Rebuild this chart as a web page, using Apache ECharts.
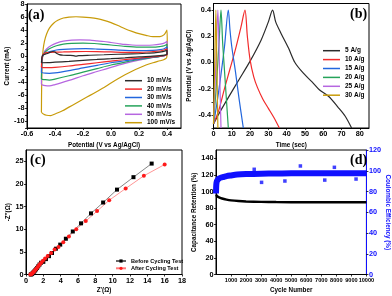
<!DOCTYPE html>
<html><head><meta charset="utf-8">
<script src="https://cdn.jsdelivr.net/npm/echarts@6/dist/echarts.min.js"></script>
<style>html,body{margin:0;padding:0;background:#fff}#c{width:392px;height:296px}</style>
</head><body><div id="c"></div><script>
// ---------- Panel (a): CV curves, [potential V, current mA]
const cvNames = ['10 mV/s','20 mV/s','30 mV/s','40 mV/s','50 mV/s','100 mV/s'];
const cv10 = [[-0.497,-1.0],[-0.495,-0.5],[-0.49,0.1],[-0.47,0.3],[-0.45,0.45],[-0.43,0.65],[-0.415,0.72],[-0.4,0.65],[-0.39,0.45],[-0.37,0.25],[-0.34,0.15],[-0.3,0.12],[-0.27,0.1],[-0.25,0.0],[-0.23,0.08],[-0.15,0.15],[-0.05,0.22],[0.05,0.3],[0.15,0.35],[0.25,0.45],[0.32,0.55],[0.37,0.7],[0.4,0.9],[0.4,0.3],[0.35,0.1],[0.3,0.0],[0.2,-0.1],[0.1,-0.25],[0.0,-0.38],[-0.1,-0.5],[-0.2,-0.65],[-0.3,-0.8],[-0.4,-0.92],[-0.45,-0.98],[-0.497,-1.0]];
const cv20 = [[-0.497,-1.7],[-0.495,-0.8],[-0.49,0.0],[-0.48,0.4],[-0.46,0.55],[-0.43,0.6],[-0.39,0.62],[-0.34,0.65],[-0.26,0.7],[-0.18,0.72],[-0.1,0.7],[0.0,0.65],[0.1,0.6],[0.2,0.6],[0.3,0.7],[0.35,0.8],[0.38,0.95],[0.4,1.15],[0.4,0.25],[0.35,0.0],[0.3,-0.1],[0.2,-0.3],[0.1,-0.5],[0.0,-0.75],[-0.1,-1.0],[-0.2,-1.25],[-0.3,-1.5],[-0.4,-1.7],[-0.44,-1.75],[-0.47,-1.75],[-0.497,-1.7]];
const cv30 = [[-0.497,-2.5],[-0.495,-1.0],[-0.49,-0.1],[-0.48,0.3],[-0.46,0.55],[-0.43,0.75],[-0.39,0.95],[-0.34,1.05],[-0.26,1.12],[-0.18,1.15],[-0.1,1.1],[0.0,1.0],[0.1,0.9],[0.2,0.85],[0.3,0.9],[0.35,1.0],[0.38,1.15],[0.4,1.4],[0.4,0.3],[0.35,-0.05],[0.3,-0.15],[0.2,-0.4],[0.1,-0.7],[0.0,-1.0],[-0.1,-1.4],[-0.2,-1.8],[-0.3,-2.2],[-0.4,-2.55],[-0.44,-2.62],[-0.47,-2.6],[-0.497,-2.5]];
const cv40 = [[-0.497,-3.5],[-0.495,-1.5],[-0.49,-0.2],[-0.48,0.4],[-0.46,0.85],[-0.43,1.25],[-0.39,1.6],[-0.34,1.85],[-0.28,1.97],[-0.2,2.0],[-0.12,1.95],[-0.05,1.82],[0.0,1.72],[0.1,1.5],[0.2,1.38],[0.3,1.38],[0.35,1.48],[0.38,1.6],[0.4,1.85],[0.4,0.4],[0.35,-0.05],[0.3,-0.2],[0.2,-0.5],[0.1,-0.9],[0.0,-1.35],[-0.1,-1.9],[-0.2,-2.45],[-0.3,-3.0],[-0.4,-3.5],[-0.44,-3.65],[-0.47,-3.6],[-0.497,-3.5]];
const cv50 = [[-0.497,-4.3],[-0.495,-2.0],[-0.49,-0.3],[-0.48,0.5],[-0.46,1.1],[-0.43,1.6],[-0.39,2.0],[-0.34,2.3],[-0.28,2.45],[-0.22,2.5],[-0.15,2.45],[-0.1,2.35],[-0.05,2.25],[0.0,2.1],[0.05,1.95],[0.1,1.8],[0.15,1.72],[0.2,1.68],[0.25,1.68],[0.3,1.72],[0.35,1.85],[0.38,2.0],[0.4,2.3],[0.4,0.3],[0.35,0.0],[0.3,-0.2],[0.2,-0.6],[0.1,-1.1],[0.0,-1.7],[-0.1,-2.35],[-0.2,-3.0],[-0.3,-3.7],[-0.4,-4.35],[-0.44,-4.55],[-0.47,-4.5],[-0.497,-4.35]];
const cv100 = [[-0.497,-8.6],[-0.495,-4.0],[-0.49,-0.5],[-0.485,1.0],[-0.475,2.3],[-0.46,3.4],[-0.44,4.3],[-0.41,5.05],[-0.38,5.5],[-0.34,5.85],[-0.3,6.0],[-0.25,6.05],[-0.2,6.0],[-0.15,5.9],[-0.1,5.75],[-0.05,5.5],[0.0,5.15],[0.05,4.7],[0.1,4.2],[0.15,3.8],[0.2,3.45],[0.25,3.2],[0.3,3.0],[0.35,3.0],[0.38,3.3],[0.4,4.0],[0.402,1.5],[0.398,-0.2],[0.38,-0.5],[0.35,-0.7],[0.3,-1.0],[0.25,-1.35],[0.2,-1.8],[0.15,-2.3],[0.1,-2.85],[0.05,-3.45],[0.0,-4.1],[-0.05,-4.8],[-0.1,-5.4],[-0.15,-6.0],[-0.2,-6.6],[-0.25,-7.2],[-0.3,-7.8],[-0.35,-8.4],[-0.4,-8.85],[-0.43,-9.1],[-0.46,-9.05],[-0.48,-8.9],[-0.497,-8.6]];

// ---------- Panel (b): GCD curves, [time s, potential V]
const gcdNames = ['5 A/g','10 A/g','15 A/g','20 A/g','25 A/g','30 A/g'];
const gcd5 = [[0,-0.47],[2.6,-0.4],[8,-0.27],[14,-0.13],[20,0.01],[26,0.17],[30,0.31],[32.3,0.4],[34,0.31],[37,0.22],[41,0.11],[44.5,0.0],[49,-0.08],[54,-0.15],[58,-0.21],[63,-0.26],[68,-0.34],[72,-0.41],[75.5,-0.5]];
const gcd10 = [[0,-0.47],[3,-0.36],[6,-0.2],[9,-0.05],[12,0.1],[15,0.27],[17.2,0.4],[18.5,0.2],[20,0.02],[22,-0.11],[24,-0.19],[27,-0.28],[30,-0.35],[33,-0.42],[36,-0.5]];
const gcd15 = [[0,-0.47],[2,-0.3],[4,-0.1],[6,0.12],[8.1,0.4],[9,0.25],[10,0.12],[12,-0.07],[14,-0.28],[16.3,-0.5]];
const gcd20 = [[0,-0.47],[1,-0.28],[2,-0.08],[3,0.14],[4.1,0.4],[5,0.15],[6,-0.06],[7,-0.27],[8.1,-0.5]];
const gcd25 = [[0,-0.47],[1.2,-0.05],[2.4,0.4],[3.2,0.0],[4.1,-0.5]];
const gcd30 = [[0,-0.47],[0.6,-0.05],[1.3,0.4],[1.8,0.0],[2.4,-0.5]];

// ---------- Panel (c): Nyquist, [Z' ohm, -Z'' ohm]
const eisNames = ['Before Cycling Test','After Cycling Test'];
const eisBefore = [[0.55,0],[0.62,0.05],[0.7,0.15],[0.78,0.3],[0.86,0.47],[0.95,0.67],[1.05,0.9],[1.16,1.15],[1.28,1.45],[1.41,1.8],[1.56,2.2],[1.73,2.6],[2.0,2.8],[2.3,3.4],[2.65,4.05],[3.0,4.75],[3.45,5.7],[3.95,6.6],[4.6,7.9],[5.4,9.5],[6.35,11.3],[7.5,13.5],[8.9,15.9],[10.5,18.75],[12.4,21.5],[14.5,24.5]];
const eisAfter = [[0.5,0],[0.57,0.05],[0.65,0.15],[0.73,0.3],[0.82,0.47],[0.92,0.67],[1.02,0.9],[1.14,1.15],[1.27,1.45],[1.41,1.8],[1.57,2.2],[1.75,2.6],[1.96,3.05],[2.2,3.55],[2.5,4.1],[2.9,4.75],[3.3,5.5],[3.75,6.1],[4.3,7.1],[4.95,8.4],[5.8,10.0],[6.9,11.8],[8.2,14.0],[9.6,16.4],[11.5,19.0],[13.6,21.8],[16.0,24.3]];

// ---------- Panel (d): cycling, [cycle, %]
const retention = [[0,96],[50,95],[100,94],[200,93],[400,91.5],[700,90.2],[1000,89.3],[1500,88.5],[2000,88],[3000,87.5],[4000,87.2],[6000,87],[8000,87],[10000,87]];
const efficiency = [[1,78],[10,84],[30,88],[60,90],[100,91],[200,92.5],[350,93.5],[500,94],[700,94.8],[1000,95.5],[1400,96.3],[2000,96.8],[3000,97.2],[4000,97.3],[5000,97.5],[6000,97.5],[7000,97.6],[8000,97.5],[9000,97.5],[10000,97.5]];
const efficiencyOutliers = [[2540,101.4],[3030,88.8],[4580,90.1],[5610,104.6],[7230,91.0],[7870,103.3],[9310,92.0]];

const cvColors = ['#2b2b2b','#f22b2b','#2266dd','#25a35a','#b666e0','#c89b0a'];
const FONT = 'Liberation Sans';
const chart = echarts.init(document.getElementById('c'), null, {renderer:'canvas'});

function ax(o){
  const base = {
    type:'value', nameLocation:'middle',
    nameTextStyle:{fontFamily:FONT,fontWeight:'bold',fontSize:6.3,color:'#000'},
    axisLine:{show:true,onZero:false,lineStyle:{color:'#000',width:1}},
    axisTick:{show:true,inside:false,length:2,lineStyle:{color:'#000',width:0.8}},
    axisLabel:{fontFamily:FONT,fontWeight:'bold',fontSize:7.3,color:'#000',margin:2.5},
    splitLine:{show:false}
  };
  const r = Object.assign({}, base, o);
  if (o.axisLabel) r.axisLabel = Object.assign({}, base.axisLabel, o.axisLabel);
  if (o.axisLine) r.axisLine = Object.assign({}, base.axisLine, o.axisLine);
  if (o.nameTextStyle) r.nameTextStyle = Object.assign({}, base.nameTextStyle, o.nameTextStyle);
  return r;
}
const gridBox = {show:true,borderColor:'#000',borderWidth:1,backgroundColor:'transparent'};
const legendText = {fontFamily:FONT,fontWeight:'bold',color:'#000'};
const panelTitle = {fontFamily:'Liberation Serif',fontWeight:'bold',fontSize:14,color:'#000'};

const cvData = [cv10,cv20,cv30,cv40,cv50,cv100];
const gcdData = [gcd5,gcd10,gcd15,gcd20,gcd25,gcd30];
const series = [];
cvData.forEach((d,i)=>series.push({name:cvNames[i],type:'line',xAxisIndex:0,yAxisIndex:0,data:d,symbol:'none',smooth:0.3,lineStyle:{width:1.2,color:cvColors[i]},itemStyle:{color:cvColors[i]},z:10-i}));
gcdData.forEach((d,i)=>series.push({name:gcdNames[i],type:'line',xAxisIndex:1,yAxisIndex:1,data:d,symbol:'none',smooth:0.3,lineStyle:{width:1.2,color:cvColors[i]},itemStyle:{color:cvColors[i]}}));
series.push({name:eisNames[0],type:'line',xAxisIndex:2,yAxisIndex:2,data:eisBefore,symbol:'rect',symbolSize:4,lineStyle:{width:0.8,color:'#666'},itemStyle:{color:'#000'}});
series.push({name:eisNames[1],type:'line',xAxisIndex:2,yAxisIndex:2,data:eisAfter,symbol:'circle',symbolSize:4,lineStyle:{width:0.8,color:'#ff7a7a'},itemStyle:{color:'#ff1a1a'}});
series.push({name:'Capacitance Retention',type:'line',xAxisIndex:3,yAxisIndex:3,data:retention,symbol:'none',smooth:0.3,lineStyle:{width:2.5,color:'#000'}});
series.push({name:'Coulombic Efficiency',type:'line',xAxisIndex:3,yAxisIndex:4,data:efficiency,symbol:'none',smooth:0.3,lineStyle:{width:6,color:'#1010ff'}});
series.push({name:'CE outliers',type:'scatter',xAxisIndex:3,yAxisIndex:4,data:efficiencyOutliers,symbol:'rect',symbolSize:3.5,itemStyle:{color:'#1010ff'}});

const opt = {
  animation:false,
  backgroundColor:'#fff',
  title:[
    {text:'(a)',left:28,top:8,padding:0,textStyle:panelTitle},
    {text:'(b)',left:350,top:7,padding:0,textStyle:panelTitle},
    {text:'(c)',left:30,top:153,padding:0,textStyle:panelTitle},
    {text:'(d)',left:350,top:153,padding:0,textStyle:panelTitle}
  ],
  grid:[
    Object.assign({left:27,top:4,width:154,height:124},gridBox),
    Object.assign({left:213.5,top:3.5,width:155.5,height:124.5},gridBox),
    Object.assign({left:26,top:150,width:156,height:124.5},gridBox),
    Object.assign({left:216,top:150,width:155,height:124.5},gridBox)
  ],
  xAxis:[
    ax({gridIndex:0,min:-0.6,max:0.5,interval:0.2,name:'Potential (V vs Ag/AgCl)',nameGap:14,axisLabel:{showMaxLabel:false,formatter:v=>v.toFixed(1)}}),
    ax({gridIndex:1,min:0,max:85,interval:10,name:'Time (sec)',nameGap:14,axisLabel:{showMaxLabel:false}}),
    ax({gridIndex:2,min:0,max:18,interval:2,name:"Z'(Ω)",nameGap:12.5}),
    ax({gridIndex:3,min:0,max:10000,interval:1000,name:'Cycle Number',nameGap:12.5,axisLabel:{showMinLabel:false,fontSize:5.6,margin:2.5,formatter:v=>String(v)}})
  ],
  yAxis:[
    ax({gridIndex:0,min:-11,max:8,interval:1,name:'Current (mA)',nameGap:16,axisLabel:{showMaxLabel:true,formatter:v=>(Math.round(v)%2===0?String(Math.round(v)):'')}}),
    ax({gridIndex:1,min:-0.5,max:0.45,interval:0.1,name:'Potential (V vs Ag/AgCl)',nameGap:21,axisLabel:{showMaxLabel:false,formatter:v=>(Math.round(v*10)%2===0?v.toFixed(1):'')}}),
    ax({gridIndex:2,min:0,max:27.5,interval:5,name:"-Z''(Ω)",nameGap:13,axisLabel:{showMaxLabel:false}}),
    ax({gridIndex:3,min:0,max:150,interval:20,name:'Capacitance Retention (%)',nameGap:15,axisLabel:{showMaxLabel:false}}),
    ax({gridIndex:3,position:'right',min:0,max:120,interval:20,name:'Coulombic Efficiency (%)',nameGap:14,nameRotate:-90,
        axisLine:{lineStyle:{color:'#1010ff',width:1}},axisLabel:{color:'#1010ff'},nameTextStyle:{color:'#1010ff'}})
  ],
  legend:[
    {data:cvNames,icon:'rect',orient:'vertical',left:125,top:77.2,padding:0,itemWidth:17,itemHeight:1.5,itemGap:1.4,itemTextGap:2,textStyle:Object.assign({fontSize:6.5,lineHeight:7},legendText)},
    {data:gcdNames,icon:'rect',orient:'vertical',left:323,top:47.2,padding:0,itemWidth:17,itemHeight:1.5,itemGap:1.9,itemTextGap:2,textStyle:Object.assign({fontSize:6.5,lineHeight:7},legendText)},
    {data:eisNames,orient:'vertical',left:115,top:258,padding:0,itemWidth:10,itemHeight:4,itemGap:1.3,itemTextGap:3,textStyle:Object.assign({fontSize:5.6,lineHeight:6},legendText)}
  ],
  series:series
};
chart.setOption(opt);
</script></body></html>
